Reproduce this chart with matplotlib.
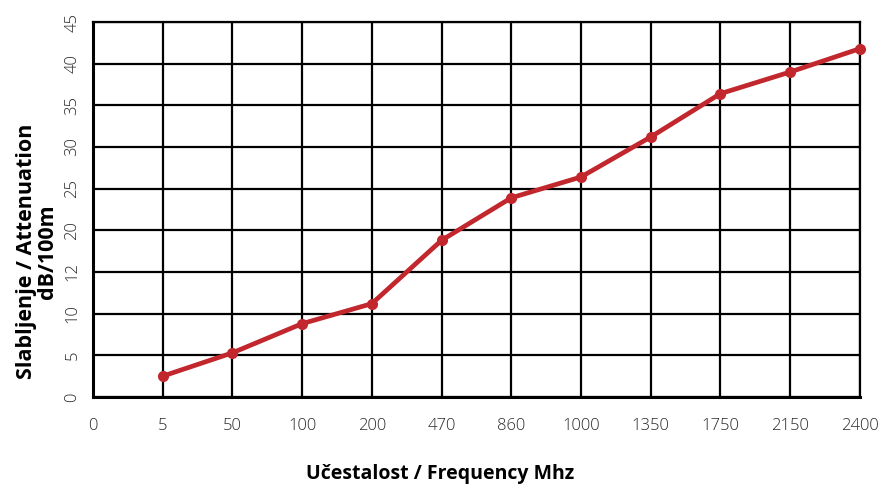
import matplotlib
matplotlib.use('Agg')
import matplotlib.pyplot as plt

# frekvencije (kategorije na x osi)
frekvencije = ['0', '5', '50', '100', '200', '470', '860', '1000', '1350', '1750', '2150', '2400']
# slabljenje dB/100m, za frekvencije od 5 pa nadalje
slabljenje = [2.5, 5.3, 8.8, 11.2, 18.8, 23.9, 26.4, 31.2, 36.4, 39.0, 41.8]
# oznake na y osi (kao na originalu)
y_vrijednosti = [0, 5, 10, 15, 20, 25, 30, 35, 40, 45]
y_oznake = ['0', '5', '10', '12', '20', '25', '30', '35', '40', '45']

plt.rcParams['font.family'] = ['Open Sans', 'DejaVu Sans']

fig = plt.figure(figsize=(8.8, 4.84), dpi=100)
ax = fig.add_axes([0.1057, 0.1798, 0.977 - 0.1057, 0.9545 - 0.1798])

x_poz = list(range(len(frekvencije)))
ax.plot(x_poz[1:], slabljenje, color='#c1272d', linewidth=3.4,
        marker='o', markersize=7, zorder=3, clip_on=False)

ax.set_xlim(0, len(frekvencije) - 1)
ax.set_ylim(0, 45)
ax.set_xticks(x_poz)
ax.set_xticklabels(frekvencije)
ax.set_yticks(y_vrijednosti)
ax.set_yticklabels(y_oznake, rotation=90, va='center')

ax.grid(True, color='black', linewidth=1.6)
ax.set_axisbelow(True)
for s in ax.spines.values():
    s.set_color('black')
    s.set_linewidth(1.6)
ax.spines['left'].set_linewidth(2.2)
ax.spines['bottom'].set_linewidth(2.2)

ax.tick_params(axis='both', length=0, labelsize=12, labelcolor='#2a2a2a')
ax.tick_params(axis='x', pad=15)
ax.tick_params(axis='y', pad=9)
for lab in ax.get_xticklabels() + ax.get_yticklabels():
    lab.set_fontweight('light')

fig.text(0.5, 0.0, 'Učestalost / Frequency Mhz', ha='center', va='bottom',
         fontsize=14, fontweight='bold')
fig.text(0.042, 0.48, 'Slabljenje / Attenuation\ndB/100m', ha='center', va='center',
         rotation=90, fontsize=15.5, fontweight='bold', linespacing=1.0)

fig.savefig('out.png', dpi=100)
